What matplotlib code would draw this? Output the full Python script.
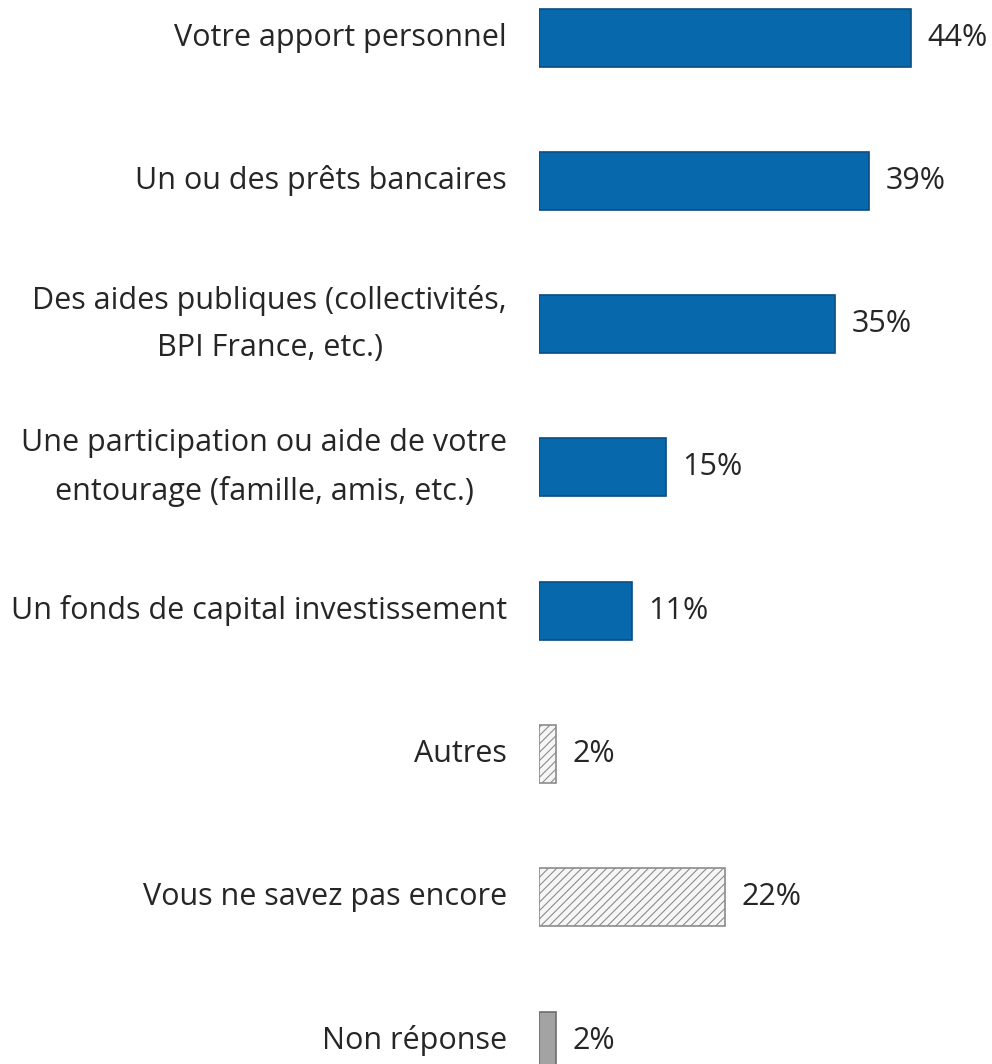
import matplotlib
matplotlib.use("Agg")
import matplotlib.pyplot as plt

categories = [
    "Votre apport personnel",
    "Un ou des prêts bancaires",
    "Des aides publiques (collectivités,\nBPI France, etc.)",
    "Une participation ou aide de votre\nentourage (famille, amis, etc.)",
    "Un fonds de capital investissement",
    "Autres",
    "Vous ne savez pas encore",
    "Non réponse",
]
values = [44, 39, 35, 15, 11, 2, 22, 2]
kinds = ["source"] * 5 + ["other", "unknown", "none"]

plt.rcParams["font.family"] = ["Open Sans", "DejaVu Sans"]
plt.rcParams["hatch.color"] = "#ababab"
plt.rcParams["hatch.linewidth"] = 0.8

fig = plt.figure(figsize=(9.92, 10.64), dpi=100)
ax = fig.add_axes([0.5434, 0.0, 0.4566, 1.0])

styles = {
    "source": dict(color="#0868ac", edgecolor="#0a4d80", hatch=None),
    "other": dict(color="#f6f6f6", edgecolor="#8c8c8c", hatch="////"),
    "unknown": dict(color="#f6f6f6", edgecolor="#8c8c8c", hatch="////"),
    "none": dict(color="#a3a3a3", edgecolor="#6e6e6e", hatch=None),
}

ypos = list(range(len(categories)))
for y, v, k in zip(ypos, values, kinds):
    st = styles[k]
    ax.barh(y, v, height=0.405, color=st["color"], edgecolor=st["edgecolor"],
            linewidth=1.2, hatch=st["hatch"])
    # value label just past the bar end
    ax.annotate(f"{v}%", (v, y), xytext=(12, 0), textcoords="offset points",
                ha="left", va="center", fontsize=22, color="#262626")

for y, lab in zip(ypos, categories):
    ax.annotate(lab, (0, y), xytext=(-23, 0), textcoords="offset points",
                ha="right", va="center", multialignment="center",
                fontsize=22, color="#262626", linespacing=1.72,
                annotation_clip=False)

ax.set_xlim(0, 53.6)
ax.set_ylim(7.163, -0.262)
ax.axis("off")

fig.savefig("out.png", dpi=100)
